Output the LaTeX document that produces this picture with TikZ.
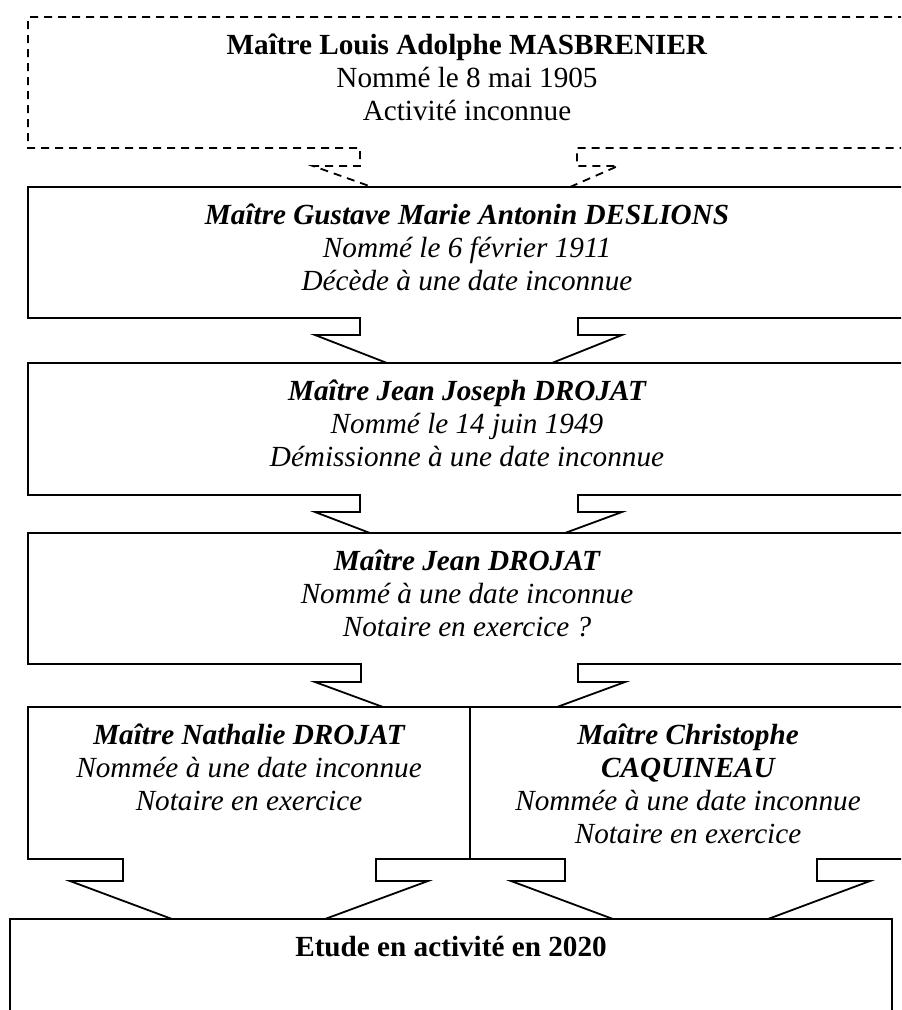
\documentclass[tikz,border=0pt]{standalone}
\usepackage{fontspec}
\setmainfont{Liberation Serif}
\tikzset{
  outline/.style={line width=1.35pt, line join=miter},
  dashline/.style={outline, dash pattern=on 6pt off 4.5pt},
  txt/.style={anchor=north, inner sep=0pt, align=center, font=\fontsize{21.9}{24.7}\selectfont},
  itxt/.style={txt, font=\fontsize{21.9}{24.7}\selectfont\itshape},
}
\begin{document}
\begin{tikzpicture}[x=0.75pt,y=-0.75pt]
\useasboundingbox (0,0) rectangle (901,1010);
\clip (0,0) rectangle (901,1010);

% box 1 (dashed)
\draw[dashline] (906,17) -- (28,17) -- (28,148) -- (360,148) -- (360,166) -- (313,166) -- (372,187);
\draw[dashline] (570,187) -- (618,166) -- (577,166) -- (577,148) -- (906,148);
% box 2
\draw[outline] (906,187) -- (28,187) -- (28,318) -- (360,318) -- (360,335) -- (315,335) -- (387,363);
\draw[outline] (552,363) -- (622,335) -- (578,335) -- (578,318) -- (906,318);
% box 3
\draw[outline] (906,363) -- (28,363) -- (28,495) -- (360,495) -- (360,512) -- (315,512) -- (370,533);
\draw[outline] (565,533) -- (622,512) -- (578,512) -- (578,495) -- (906,495);
% box 4
\draw[outline] (906,533) -- (28,533) -- (28,664) -- (361,664) -- (361,682) -- (315,682) -- (383,707);
\draw[outline] (557,707) -- (625,682) -- (578,682) -- (578,664) -- (906,664);
% box 5 (two columns)
\draw[outline] (906,707) -- (28,707) -- (28,859) -- (123,859) -- (123,881) -- (70,881) -- (172,919);
\draw[outline] (325,919) -- (428,881) -- (376,881) -- (376,859) -- (565,859) -- (565,881) -- (511,881) -- (613,919);
\draw[outline] (768,919) -- (870,881) -- (817,881) -- (817,859) -- (906,859);
\draw[outline] (470,707) -- (470,859);
% final box
\draw[outline] (10,1015) -- (10,919) -- (892,919) -- (892,1015);

\node[txt] (masbrenier) at (467,34) {\textbf{Maître Louis Adolphe MASBRENIER}\\Nommé le 8 mai 1905\\Activité inconnue};
\node[itxt] (deslions) at (467,204) {\textbf{Maître Gustave Marie Antonin DESLIONS}\\Nommé le 6 février 1911\\Décède à une date inconnue};
\node[itxt] (jjdrojat) at (467,380) {\textbf{Maître Jean Joseph DROJAT}\\Nommé le 14 juin 1949\\Démissionne à une date inconnue};
\node[itxt] (jdrojat) at (467,550) {\textbf{Maître Jean DROJAT}\\Nommé à une date inconnue\\Notaire en exercice ?};
\node[itxt] (ndrojat) at (249,724) {\textbf{Maître Nathalie DROJAT}\\Nommée à une date inconnue\\Notaire en exercice};
\node[itxt] (caquineau) at (688,724) {\textbf{Maître Christophe}\\\textbf{CAQUINEAU}\\Nommée à une date inconnue\\Notaire en exercice};
\node[txt] (etude) at (451,936) {\textbf{Etude en activité en 2020}};
\end{tikzpicture}
\end{document}
